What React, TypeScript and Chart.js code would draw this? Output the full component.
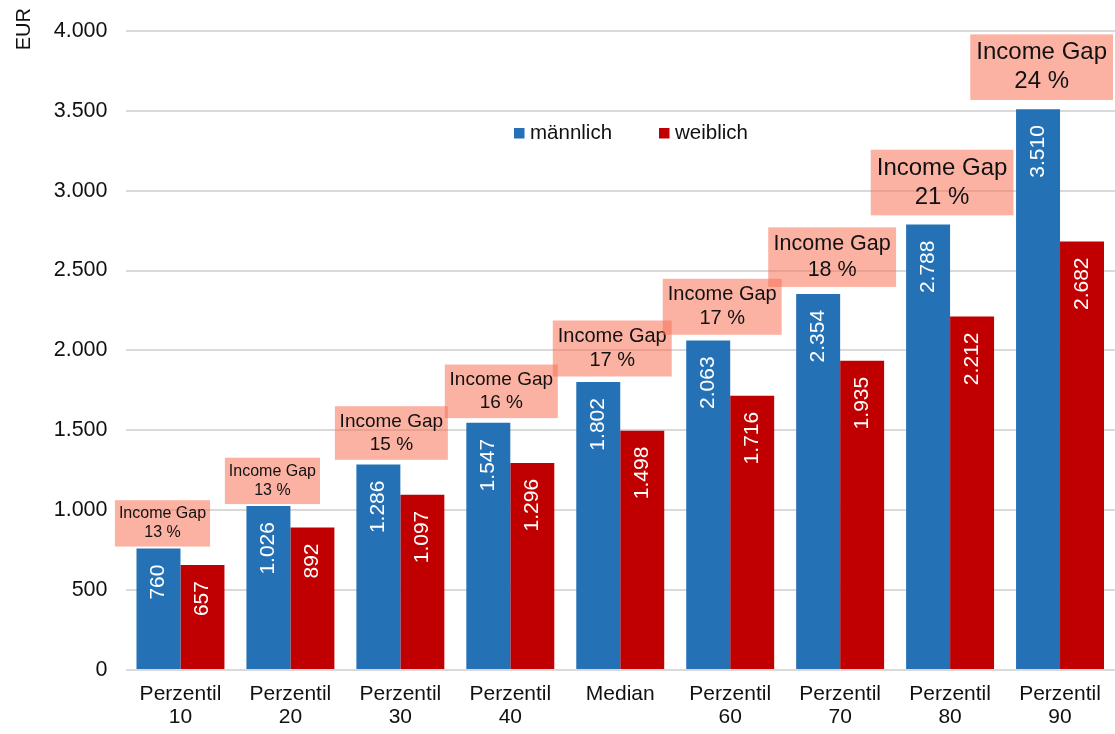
import React, { useEffect, useRef } from "react";
import { Chart, registerables } from "chart.js";

Chart.register(...registerables);

const FONT = '"Liberation Sans", Arial, Helvetica, sans-serif';

// ---- data ----
const categories: (string | string[])[] = [
  ["Perzentil", "10"],
  ["Perzentil", "20"],
  ["Perzentil", "30"],
  ["Perzentil", "40"],
  "Median",
  ["Perzentil", "60"],
  ["Perzentil", "70"],
  ["Perzentil", "80"],
  ["Perzentil", "90"],
];
const maleValues = [760, 1026, 1286, 1547, 1802, 2063, 2354, 2788, 3510];
const femaleValues = [657, 892, 1097, 1296, 1498, 1716, 1935, 2212, 2682];
const gapPercent = [13, 13, 15, 16, 17, 17, 18, 21, 24];
const seriesNames = ["männlich", "weiblich"];
const axisTitle = "EUR";
const gapLabel = "Income Gap";

// ---- styles ----
const BLUE = "#2571B5";
const RED = "#C00000";
const GRID = "#D9D9D9";
const TEXT = "#111111";
const BOX = "rgba(248, 115, 88, 0.55)";
const gapFontSize = [16, 16, 19, 19, 20, 20, 21.5, 24, 24];

const fmt = (v: number) =>
  String(Math.round(v)).replace(/\B(?=(\d{3})+(?!\d))/g, ".");

const overlay = {
  id: "overlay",
  afterDatasetsDraw(chart: any) {
    const ctx = chart.ctx as CanvasRenderingContext2D;
    // value labels inside bars
    chart.data.datasets.forEach((ds: any, di: number) => {
      const meta = chart.getDatasetMeta(di);
      meta.data.forEach((bar: any, i: number) => {
        ctx.save();
        ctx.translate(bar.x, bar.y + 16);
        ctx.rotate(-Math.PI / 2);
        ctx.textAlign = "right";
        ctx.textBaseline = "middle";
        ctx.font = `21px ${FONT}`;
        ctx.fillStyle = "#ffffff";
        ctx.fillText(fmt(ds.data[i]), 0, 0);
        ctx.restore();
      });
    });
    // income gap boxes
    const maleMeta = chart.getDatasetMeta(0);
    const area = chart.chartArea;
    gapPercent.forEach((g, i) => {
      const bar: any = maleMeta.data[i];
      const fs = gapFontSize[i];
      ctx.save();
      ctx.font = `${fs}px ${FONT}`;
      const line2 = `${g} %`;
      const tw = Math.max(ctx.measureText(gapLabel).width, ctx.measureText(line2).width);
      const pad = fs * 0.25;
      const w = tw + 2 * pad;
      const h = fs * 2.4 + 8;
      let cx = bar.x + Math.min(14, 4 + (fs - 16) * 3);
      if (cx + w / 2 > area.right - 2) cx = area.right - 2 - w / 2;
      const bottom = bar.y - (2 + (fs - 16) * 0.9);
      const top = bottom - h;
      ctx.fillStyle = BOX;
      ctx.fillRect(cx - w / 2, top, w, h);
      ctx.fillStyle = TEXT;
      ctx.textAlign = "center";
      ctx.textBaseline = "middle";
      ctx.fillText(gapLabel, cx, top + 4 + fs * 0.6);
      ctx.fillText(line2, cx, top + 4 + fs * 1.8);
      ctx.restore();
    });
  },
  afterDraw(chart: any) {
    const ctx = chart.ctx as CanvasRenderingContext2D;
    // y axis title
    ctx.save();
    ctx.translate(24, 8);
    ctx.rotate(-Math.PI / 2);
    ctx.textAlign = "right";
    ctx.textBaseline = "middle";
    ctx.font = `20px ${FONT}`;
    ctx.fillStyle = TEXT;
    ctx.fillText(axisTitle, 0, 0);
    ctx.restore();
    // legend
    const items = [
      { x: 514, color: BLUE, label: seriesNames[0] },
      { x: 659, color: RED, label: seriesNames[1] },
    ];
    ctx.save();
    ctx.font = `20.5px ${FONT}`;
    ctx.textBaseline = "middle";
    ctx.textAlign = "left";
    items.forEach((it) => {
      ctx.fillStyle = it.color;
      ctx.fillRect(it.x, 128, 10.5, 10.5);
      ctx.fillStyle = TEXT;
      ctx.fillText(it.label, it.x + 16, 133.5);
    });
    ctx.restore();
  },
};

export default function App() {
  const ref = useRef<HTMLCanvasElement>(null);
  useEffect(() => {
    Chart.defaults.font.family = FONT;
    const chart = new Chart(ref.current!, {
      type: "bar",
      data: {
        labels: categories,
        datasets: [
          {
            label: seriesNames[0],
            data: maleValues,
            backgroundColor: BLUE,
            categoryPercentage: 0.8,
            barPercentage: 1,
          },
          {
            label: seriesNames[1],
            data: femaleValues,
            backgroundColor: RED,
            categoryPercentage: 0.8,
            barPercentage: 1,
          },
        ],
      },
      options: {
        animation: false,
        responsive: true,
        maintainAspectRatio: false,
        layout: { padding: { top: 30, right: 0, bottom: 0, left: 0 } },
        plugins: {
          legend: { display: false },
          tooltip: { enabled: false },
        },
        scales: {
          x: {
            grid: { display: false, drawTicks: false },
            border: { display: false },
            ticks: {
              color: TEXT,
              font: { size: 21, lineHeight: 1.1 },
              padding: 13,
              maxRotation: 0,
              autoSkip: false,
            },
            afterFit: (s: any) => {
              s.height = 64;
            },
          },
          y: {
            min: 0,
            max: 4000,
            grid: { color: GRID, lineWidth: 2, drawTicks: false },
            border: { display: false },
            ticks: {
              stepSize: 500,
              color: TEXT,
              font: { size: 21.5 },
              padding: 18,
              callback: (v: any) => fmt(Number(v)),
            },
            afterFit: (s: any) => {
              s.width = 125.5;
            },
          },
        },
      },
      plugins: [overlay],
    });
    return () => chart.destroy();
  }, []);
  return (
    <div style={{ position: "absolute", left: 0, top: 0, width: 1115, height: 734 }}>
      <canvas ref={ref} />
    </div>
  );
}
